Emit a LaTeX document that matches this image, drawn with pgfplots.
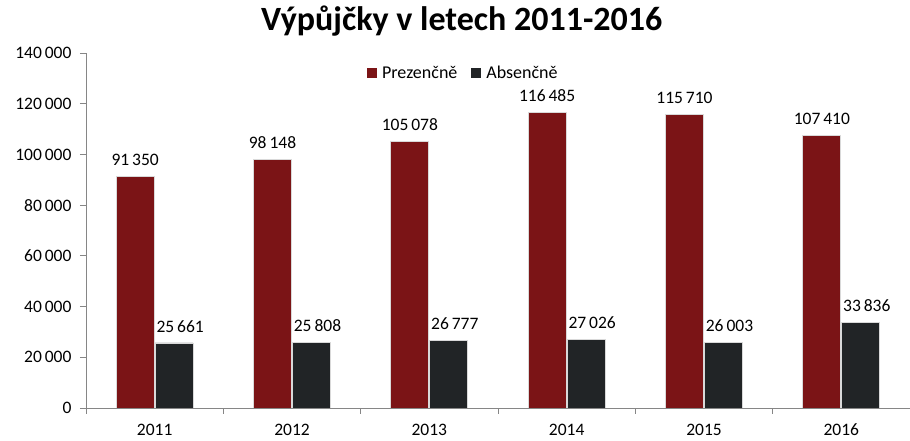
\documentclass[border=0pt]{standalone}
\usepackage{fontspec}
\setmainfont{Carlito}
\usepackage{pgfplots}
\pgfplotsset{compat=1.18}
\definecolor{cred}{RGB}{123,20,22}
\definecolor{cblk}{RGB}{33,36,38}
\definecolor{axgray}{RGB}{134,134,134}
\begin{document}
\begin{tikzpicture}
\begin{axis}[
  at={(0,0)}, anchor=south west,
  scale only axis, width=824bp, height=355bp,
  ybar=1bp, bar width=38bp,
  xmin=-0.5, xmax=5.5, ymin=0, ymax=140000,
  xtick={0,...,5}, xticklabels={2011,2012,2013,2014,2015,2016},
  major x tick style={draw=none},
  minor xtick={-0.5,0.5,...,5.5},
  ytick={0,20000,...,140000},
  scaled y ticks=false,
  axis x line=bottom, axis y line=left,
  axis line style={-, draw=axgray, line width=0.8bp},
  tick style={draw=axgray, line width=0.8bp},
  tick align=outside, major tick length=6bp, minor tick length=6bp,
  /pgf/number format/.cd, fixed, precision=0, 1000 sep={\,}, assume math mode=true,
  /pgfplots/.cd,
  ticklabel style={font=\fontsize{17.5bp}{20bp}\selectfont, text=black},
  yticklabel style={xshift=-5bp},
  xticklabel style={inner sep=0.5bp, yshift=-9bp},
  nodes near coords,
  every node near coord/.append style={font=\fontsize{17.5bp}{20bp}\selectfont, text=black, yshift=7bp},
  legend columns=2,
  legend style={draw=none, fill=none, at={(0.458,0.944)}, anchor=center,
    font=\fontsize{18bp}{21bp}\selectfont,
    /tikz/every odd column/.append style={column sep=3bp},
    /tikz/every even column/.append style={column sep=12bp}},
  legend image code/.code={\fill[#1,draw=none] (0bp,-5bp) rectangle (10bp,5bp);},
  title={Výpůjčky v letech 2011-2016},
  title style={font=\bfseries\fontsize{34bp}{38bp}\selectfont, at={(0.456,1)}, anchor=base, yshift=17bp},
]
\addplot[fill=cred, draw=black!15, line width=0.8bp] coordinates {(0,91350) (1,98148) (2,105078) (3,116485) (4,115710) (5,107410)};
\addplot[fill=cblk, draw=black!15, line width=0.8bp, every node near coord/.append style={xshift=6bp}] coordinates {(0,25661) (1,25808) (2,26777) (3,27026) (4,26003) (5,33836)};
\legend{Prezenčně, Absenčně}
\end{axis}
\pgfresetboundingbox
\useasboundingbox (-86bp,-33bp) rectangle (824bp,408bp);
\end{tikzpicture}
\end{document}
